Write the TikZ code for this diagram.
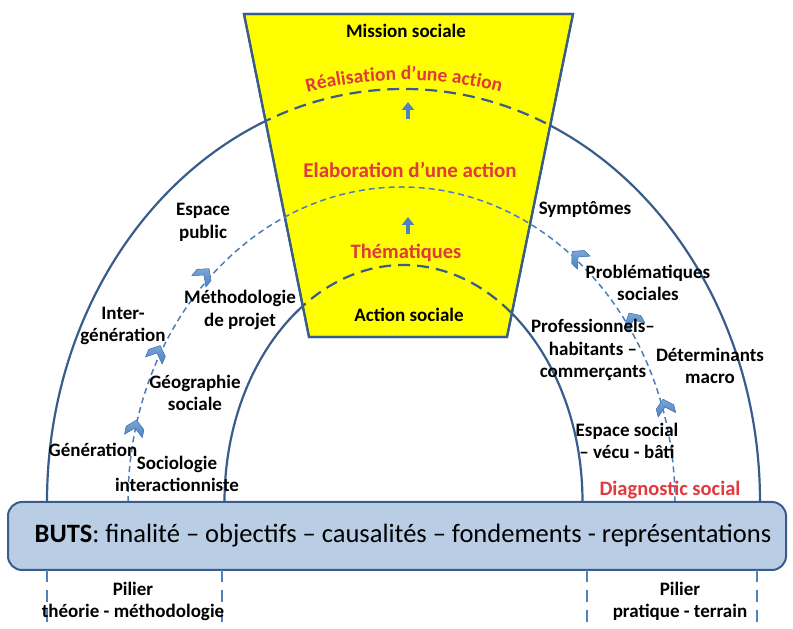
\documentclass[tikz,border=0pt]{standalone}
\usepackage{fontspec}
\setmainfont{Carlito}
\usetikzlibrary{decorations.text,arrows.meta}
\definecolor{dkblue}{HTML}{385D8A}
\definecolor{ltblue}{HTML}{4A7EBB}
\definecolor{boxfill}{HTML}{B9CDE5}
\definecolor{redtxt}{HTML}{E0393E}
\definecolor{chevblue}{HTML}{4F81BD}
\definecolor{chevlight}{HTML}{79A6DA}
\definecolor{yel}{HTML}{FFFF00}
\begin{document}
\begin{tikzpicture}[x=1pt,y=1pt,
  lbl/.style={font=\bfseries\fontsize{19}{22.5}\selectfont, align=center, inner sep=0pt},
  redlbl/.style={font=\bfseries\fontsize{21}{24}\selectfont, text=redtxt, inner sep=0pt},
  arcline/.style={draw=dkblue, line width=2.2pt},
  arcdash/.style={draw=dkblue, line width=2.2pt, dash pattern=on 12pt off 7pt},
  middash/.style={draw=ltblue, line width=1.5pt, dash pattern=on 6pt off 4pt},
  pillar/.style={draw=chevblue, line width=2.4pt, dash pattern=on 12pt off 8pt},
  uparrow/.style={draw=chevblue, line width=3.6pt, -{Triangle[width=12pt,length=8pt]}},
  chev/.pic={\fill[top color=chevlight, bottom color=chevblue, draw=chevblue, line width=0.6pt]
     (-9,-8) -- (0,0) -- (9,-8) -- (9,0) -- (0,8) -- (-9,0) -- cycle;}
]
\useasboundingbox (0,0) rectangle (793,629);

% solid arcs
\draw[arcline] (47,127) arc[start angle=180,end angle=0,x radius=356.5,y radius=413];
\draw[arcline] (224.5,127) arc[start angle=180,end angle=0,x radius=179,y radius=237];

% trapezoid
\draw[fill=yel, draw=dkblue, line width=2.2pt] (244,615) -- (573,615) -- (507,292) -- (309,292) -- cycle;
\begin{scope}
  \clip (244,615) -- (573,615) -- (507,292) -- (309,292) -- cycle;
  \draw[arcdash] (47,127) arc[start angle=180,end angle=0,x radius=356.5,y radius=413];
  \draw[arcdash] (224.5,127) arc[start angle=180,end angle=0,x radius=179,y radius=237];
\end{scope}
\draw[draw=dkblue, line width=2.2pt] (244,615) -- (573,615) -- (507,292) -- (309,292) -- cycle;

% middle dashed arc
\draw[middash] (128,127) arc[start angle=180,end angle=0,x radius=273.5,y radius=315];

% chevrons
\pic[rotate=-11] at (135,201) {chev};
\pic[rotate=-23] at (157,276) {chev};
\pic[rotate=-39] at (204,354) {chev};
\pic[rotate=14] at (665,222) {chev};
\pic[rotate=29] at (633,309) {chev};
\pic[rotate=46] at (578,372) {chev};

% small arrows
\coordinate (a1s) at (408,510);
\coordinate (a1e) at (408,527);
\coordinate (a2s) at (408,395);
\coordinate (a2e) at (408,412);
\draw[uparrow] (a1s) -- (a1e);
\draw[uparrow] (a2s) -- (a2e);

% trapezoid texts
\node[lbl] (mission) at (406,598) {Mission sociale};
\path[decorate, decoration={text along path, text align=center, text color=redtxt,
  text={|\bfseries\fontsize{19.5}{21}\selectfont|Réalisation d’une action}}]
  (404,169) ++(111:380) arc[start angle=111,end angle=69,radius=380];
\node[redlbl] (elab) at (410,459) {Elaboration d’une action};
\node[redlbl, font=\bfseries\fontsize{20.5}{24}\selectfont] (them) at (406,376) {Thématiques};
\node[lbl] (action) at (409,314) {Action sociale};

% left labels
\node[lbl] (espub) at (203,406.5) {Espace\\public};
\node[lbl] (inter) at (123,303) {Inter-\\génération};
\node[lbl] (metho) at (240,319) {Méthodologie\\de projet};
\node[lbl] (geo) at (195,236) {Géographie\\sociale};
\node[lbl] (gen) at (93,179) {Génération};
\node[lbl] (socio) at (177,155) {Sociologie\\interactionniste};

% right labels
\node[lbl] (sympt) at (585,419) {Symptômes};
\node[lbl] (probl) at (648,346) {Problématiques\\sociales};
\node[lbl] (prof) at (593,279) {Professionnels–\\habitants –\\commerçants};
\node[lbl] (deter) at (710,263) {Déterminants\\macro};
\node[lbl] (espsoc) at (627,188) {Espace social\\– vécu - bâti};
\node[redlbl, font=\bfseries\fontsize{20.5}{24}\selectfont] (diag) at (670,139) {Diagnostic social};

% base box
\node[draw=dkblue, fill=boxfill, line width=2pt, rounded corners=14pt,
  minimum width=778pt, minimum height=68pt, inner sep=0pt,
  font=\fontsize{26.5}{30}\selectfont] (buts) at (397,93)
  {\hspace*{12pt}\textbf{BUTS}: finalité – objectifs – causalités – fondements - représentations};

% pillars
\foreach \px in {47,222,587,757} {
  \draw[pillar] (\px,59) -- (\px,0);
}
\node[lbl] (pil1) at (133,27.5) {Pilier\\théorie - méthodologie};
\node[lbl] (pil2) at (680,27.5) {Pilier\\pratique - terrain};
\end{tikzpicture}
\end{document}
